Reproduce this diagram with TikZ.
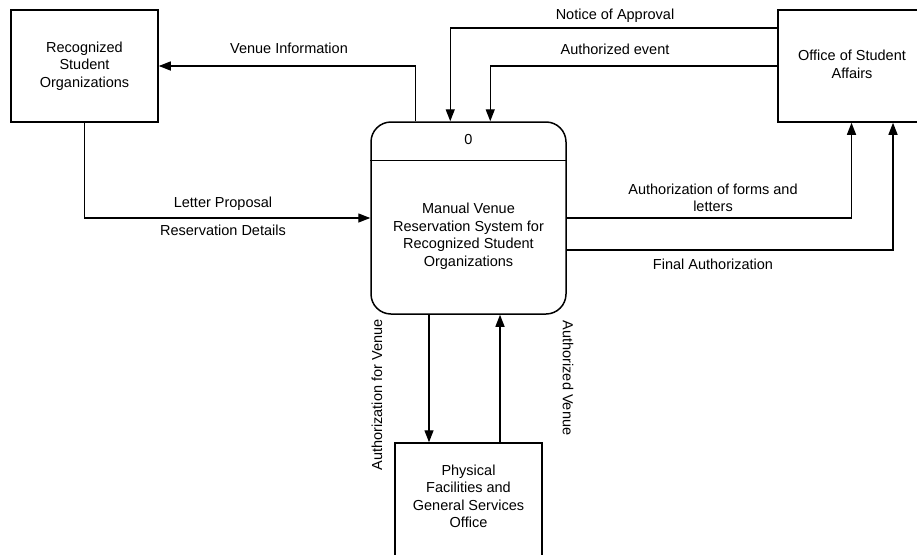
\documentclass[tikz,border=0pt]{standalone}
\usepackage{fontspec}
\setmainfont{Liberation Sans}
\usetikzlibrary{arrows.meta}
\begin{document}
\begin{tikzpicture}[x=1pt,y=-1pt,
  every node/.style={font=\fontsize{14.5}{17.5}\selectfont},
  entity/.style={draw, line width=1.5pt, minimum width=147pt, minimum height=112pt, align=center, inner sep=0pt},
  process/.style={draw, line width=1.5pt, rounded corners=20pt, minimum width=195pt, minimum height=192pt, inner sep=0pt},
  flow/.style={line width=1.4pt, -{Triangle[length=12pt,width=9pt]}},
  lbl/.style={inner sep=0pt, align=center}]
\clip (0,0) rectangle (917,554);
\fill[white] (0,0) rectangle (917,554);

% external entities
\node[entity] (rso) at (84.5,66) {Recognized\\Student\\Organizations};
\node[entity] (osa) at (851.5,66) {};
\node[lbl] (osatext) at (852,64.5) {Office of Student\\Affairs};
\node[entity, minimum height=124pt] (pf) at (468.5,505) {};
\node[lbl] (pftext) at (468.5,496.5) {Physical\\Facilities and\\General Services\\Office};

% process
\node[process] (proc) at (468.5,218) {};
\node[lbl] (procid) at (468.5,140) {0};
\draw[line width=1.5pt] ([yshift=-39pt]proc.north west) -- ([yshift=-39pt]proc.north east);
\node[lbl] (proctext) at (468.5,236) {Manual Venue\\Reservation System for\\Recognized Student\\Organizations};

% data flows
\draw[flow] ([xshift=45pt]proc.north west) |- (rso.east);
\node[lbl] (l1) at (289,48) {Venue Information};

\draw[flow] (rso.south) |- (proc.west);
\node[lbl] (l2) at (223,204) {Letter Proposal};
\node[lbl] (l3) at (223,230) {Reservation Details};

\draw[flow] ([yshift=38pt]osa.west) -| ([xshift=80pt]proc.north west);
\node[lbl] (l4) at (615,16) {Notice of Approval};

\draw[flow] (osa.west) -| ([xshift=120pt]proc.north west);
\node[lbl] (l5) at (615,49) {Authorized event};

\draw[flow] (proc.east) -| (osa.south);
\node[lbl] (l6) at (713,198) {Authorization of forms and\\letters};

\draw[flow] ([yshift=-32pt]proc.east) -| ([xshift=41.5pt]osa.south);
\node[lbl] (l7) at (713,264) {Final Authorization};

\draw[flow] ([xshift=-39.5pt]proc.south) -- ([xshift=-39.5pt]pf.north);
\node[lbl, rotate=90] (l8) at (377,395) {Authorization for Venue};

\draw[flow] ([xshift=31.5pt]pf.north) -- ([xshift=31.5pt]proc.south);
\node[lbl, rotate=-90] (l9) at (568,378) {Authorized Venue};
\end{tikzpicture}
\end{document}
